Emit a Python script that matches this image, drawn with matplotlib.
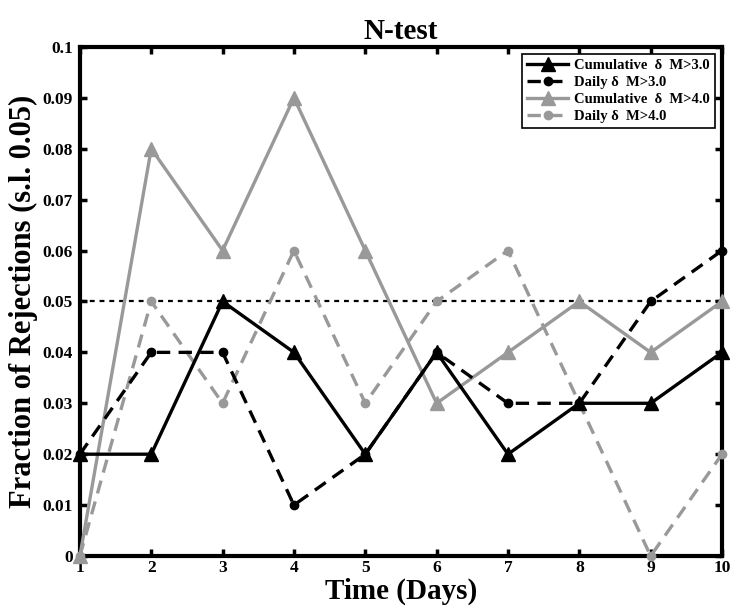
# N-test rejection fractions over time, cumulative vs daily
import numpy as np
import matplotlib.pyplot as plt

plt.rcParams['font.family'] = ['Liberation Serif', 'DejaVu Serif']
plt.rcParams['font.weight'] = 'bold'

days = np.arange(1, 11)
cum_m3 = [0.02, 0.02, 0.05, 0.04, 0.02, 0.04, 0.02, 0.03, 0.03, 0.04]
daily_m3 = [0.02, 0.04, 0.04, 0.01, 0.02, 0.04, 0.03, 0.03, 0.05, 0.06]
cum_m4 = [0.0, 0.08, 0.06, 0.09, 0.06, 0.03, 0.04, 0.05, 0.04, 0.05]
daily_m4 = [0.0, 0.05, 0.03, 0.06, 0.03, 0.05, 0.06, 0.03, 0.0, 0.02]
sig_level = 0.05

grey = '#999999'

fig = plt.figure(figsize=(7.33, 6.09), dpi=100)
ax = fig.add_axes([0.109, 0.087, 0.876, 0.836])

ax.axhline(sig_level, color='black', linestyle=(0, (2.2, 2.2)), linewidth=1.6, zorder=1)

ax.plot(days, cum_m3, color='black', linewidth=2.4, marker='^', markersize=10,
        label='Cumulative  \u03b4  M>3.0', clip_on=False, zorder=4)
ax.plot(days, daily_m3, color='black', linewidth=2.4, linestyle=(0, (4, 2.5)), marker='o',
        markersize=6, label='Daily \u03b4  M>3.0', clip_on=False, zorder=4)
ax.plot(days, cum_m4, color=grey, linewidth=2.4, marker='^', markersize=10,
        label='Cumulative  \u03b4  M>4.0', clip_on=False, zorder=3)
ax.plot(days, daily_m4, color=grey, linewidth=2.4, linestyle=(0, (4, 2.5)), marker='o',
        markersize=6, label='Daily \u03b4  M>4.0', clip_on=False, zorder=3)

ax.set_xlim(1, 10)
ax.set_ylim(0, 0.1)
ax.set_xticks(days)
ax.set_yticks(np.arange(0, 0.101, 0.01))
ax.set_yticklabels(['0', '0.01', '0.02', '0.03', '0.04', '0.05', '0.06', '0.07', '0.08', '0.09', '0.1'])

ax.tick_params(direction='in', length=5, width=2.5, top=True, right=True, labelsize=12.5)
ax.tick_params(axis='x', pad=3)
ax.tick_params(axis='y', pad=5)
for s in ax.spines.values():
    s.set_linewidth(3)

ax.set_title('N-test', fontsize=21, fontweight='bold', pad=6)
ax.set_xlabel('Time (Days)', fontsize=21, fontweight='bold', labelpad=1)
ax.set_ylabel('Fraction of Rejections (s.l. 0.05)', fontsize=22, fontweight='bold', labelpad=3)

leg = ax.legend(loc='upper right', fontsize=10.5, frameon=True, fancybox=False, handlelength=2.8,
                borderpad=0.35, labelspacing=0.25, handletextpad=0.4, borderaxespad=0.5)
leg.get_frame().set_edgecolor('black')
leg.get_frame().set_linewidth(1.2)
leg.get_frame().set_alpha(1)

fig.savefig('out.png', dpi=100)
